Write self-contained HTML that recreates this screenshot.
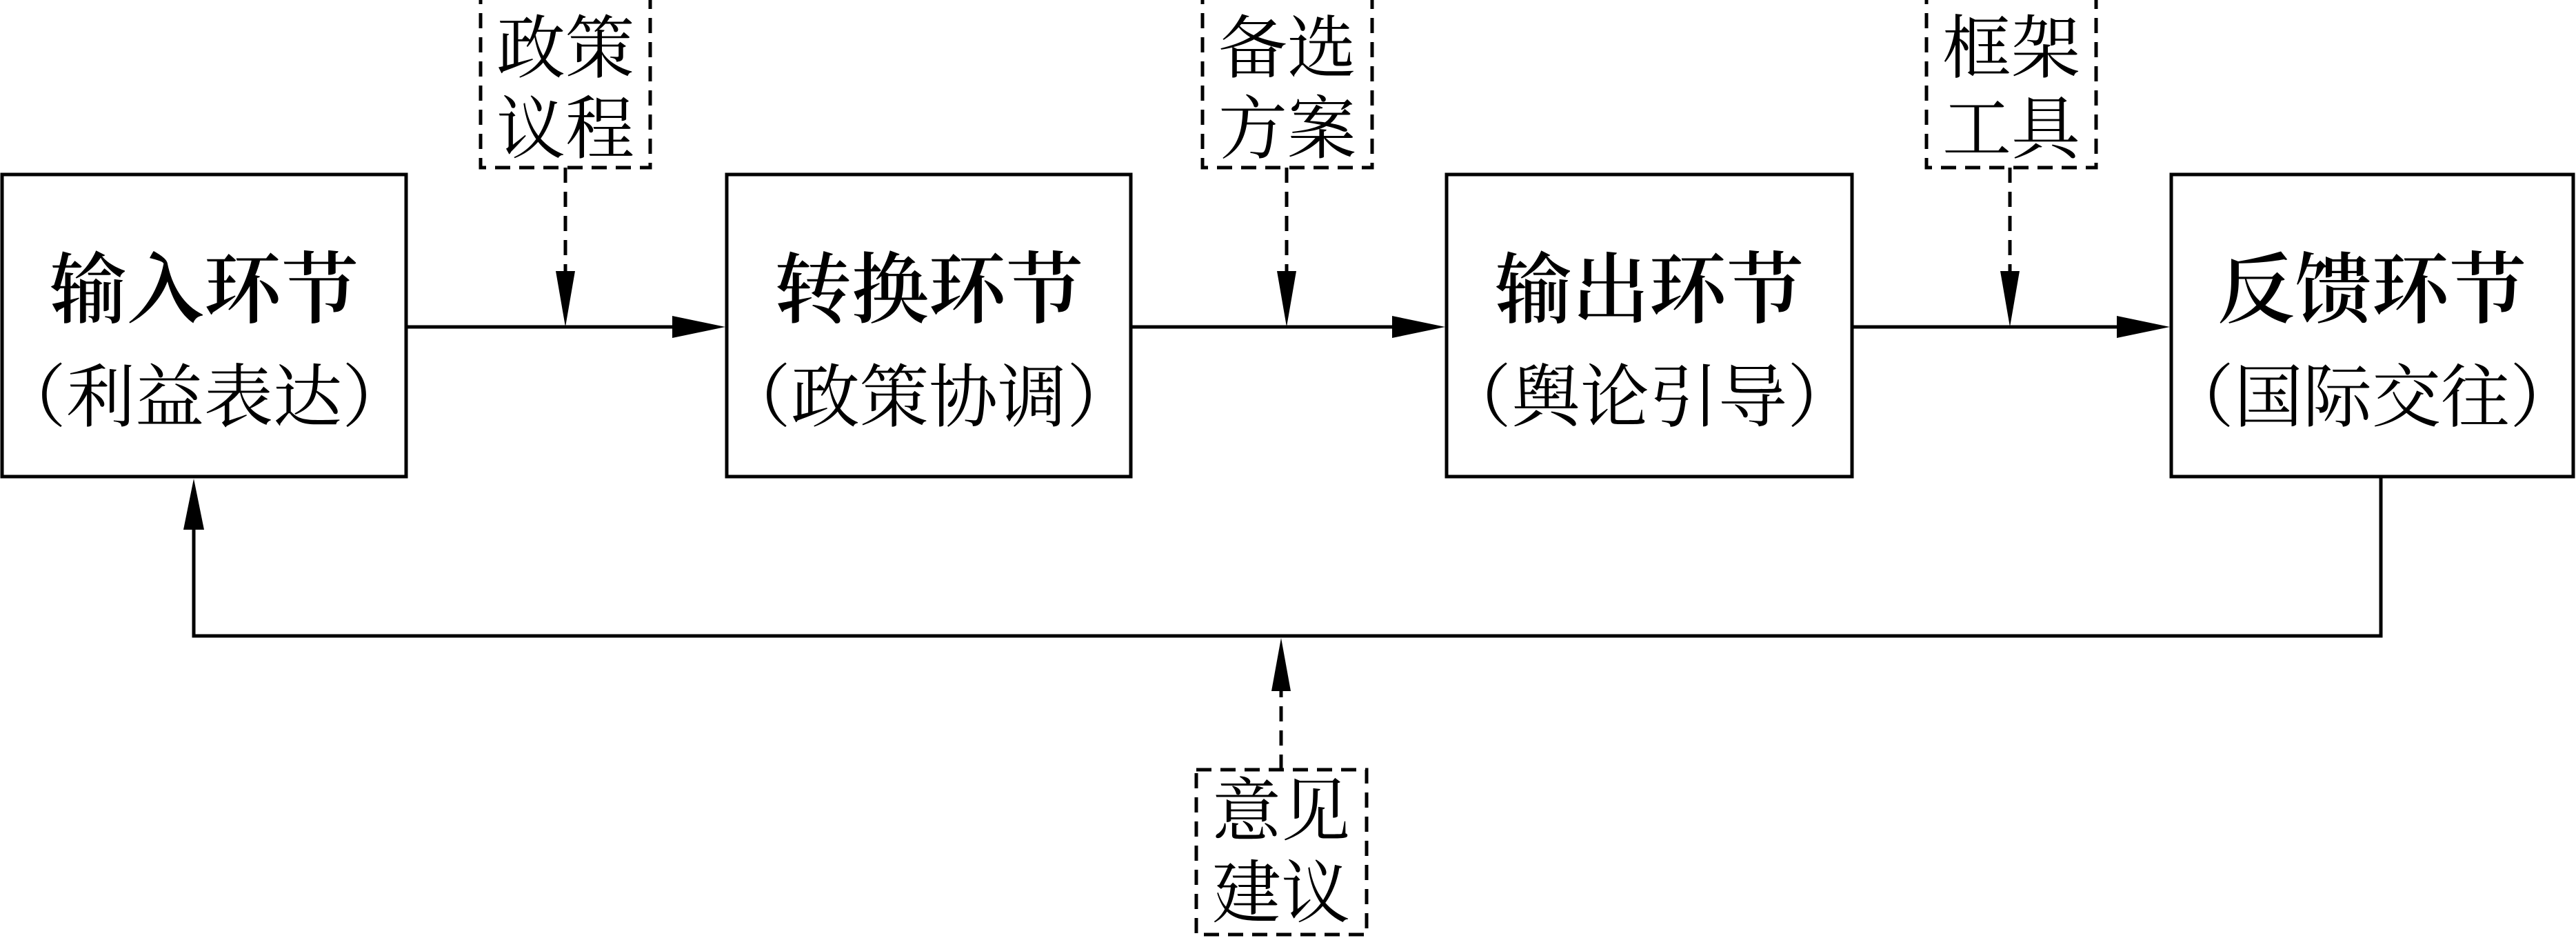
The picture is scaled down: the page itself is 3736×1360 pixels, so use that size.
<!DOCTYPE html>
<html><head><meta charset="utf-8"><style>
html,body{margin:0;padding:0;background:#fff;}
svg{display:block;}
.t{font-family:"Liberation Serif","Noto Serif CJK SC",serif;font-size:112px;font-weight:600;text-anchor:middle;dominant-baseline:central;}
.s{font-family:"Liberation Serif","Noto Serif CJK SC",serif;font-size:100px;text-anchor:middle;dominant-baseline:central;}
.d{font-family:"Liberation Serif","Noto Serif CJK SC",serif;font-size:100px;text-anchor:middle;dominant-baseline:central;}
</style></head><body>
<svg width="3736" height="1360" viewBox="0 0 3736 1360" xmlns="http://www.w3.org/2000/svg">
<g fill="none" stroke="#000" stroke-width="5">
<rect x="3" y="253" width="586" height="438"/>
<rect x="1054" y="253" width="586" height="438"/>
<rect x="2098" y="253" width="588" height="438"/>
<rect x="3149" y="253" width="583" height="438"/>
<line x1="589" y1="474" x2="1000" y2="474"/>
<line x1="1640" y1="474" x2="2040" y2="474"/>
<line x1="2686" y1="474" x2="3090" y2="474"/>
<polyline points="3453,691 3453,922 281,922 281,760"/>
</g>
<g fill="#000">
<polygon points="1052,474 975,458 975,490"/>
<polygon points="2096,474 2019,458 2019,490"/>
<polygon points="3147,474 3070,458 3070,490"/>
<polygon points="281,694 266,768 296,768"/>
<polygon points="820,474 806,393 834,393"/>
<polygon points="1866,474 1852,393 1880,393"/>
<polygon points="2915,474 2901,393 2929,393"/>
<polygon points="1858,925 1844,1002 1872,1002"/>
</g>
<g fill="none" stroke="#000" stroke-width="5" stroke-dasharray="22,13">
<rect x="697" y="-8" width="246" height="251"/>
<rect x="1744" y="-8" width="246" height="251"/>
<rect x="2794" y="-8" width="246" height="251"/>
<rect x="1735" y="1116" width="247" height="239"/>
<line x1="820" y1="243" x2="820" y2="400"/>
<line x1="1866" y1="243" x2="1866" y2="400"/>
<line x1="2915" y1="243" x2="2915" y2="400"/>
<line x1="1858" y1="1116" x2="1858" y2="995"/>
</g>
<text class="t" x="296" y="422">输入环节</text>
<text class="s" x="296" y="577">（利益表达）</text>
<text class="t" x="1347" y="422">转换环节</text>
<text class="s" x="1347" y="577">（政策协调）</text>
<text class="t" x="2392" y="422">输出环节</text>
<text class="s" x="2392" y="577">（舆论引导）</text>
<text class="t" x="3440" y="422">反馈环节</text>
<text class="s" x="3440" y="577">（国际交往）</text>
<text class="d" x="820" y="71">政策</text>
<text class="d" x="820" y="188">议程</text>
<text class="d" x="1867" y="71">备选</text>
<text class="d" x="1867" y="188">方案</text>
<text class="d" x="2917" y="71">框架</text>
<text class="d" x="2917" y="188">工具</text>
<text class="d" x="1858" y="1177">意见</text>
<text class="d" x="1858" y="1296">建议</text>
</svg>
</body></html>
